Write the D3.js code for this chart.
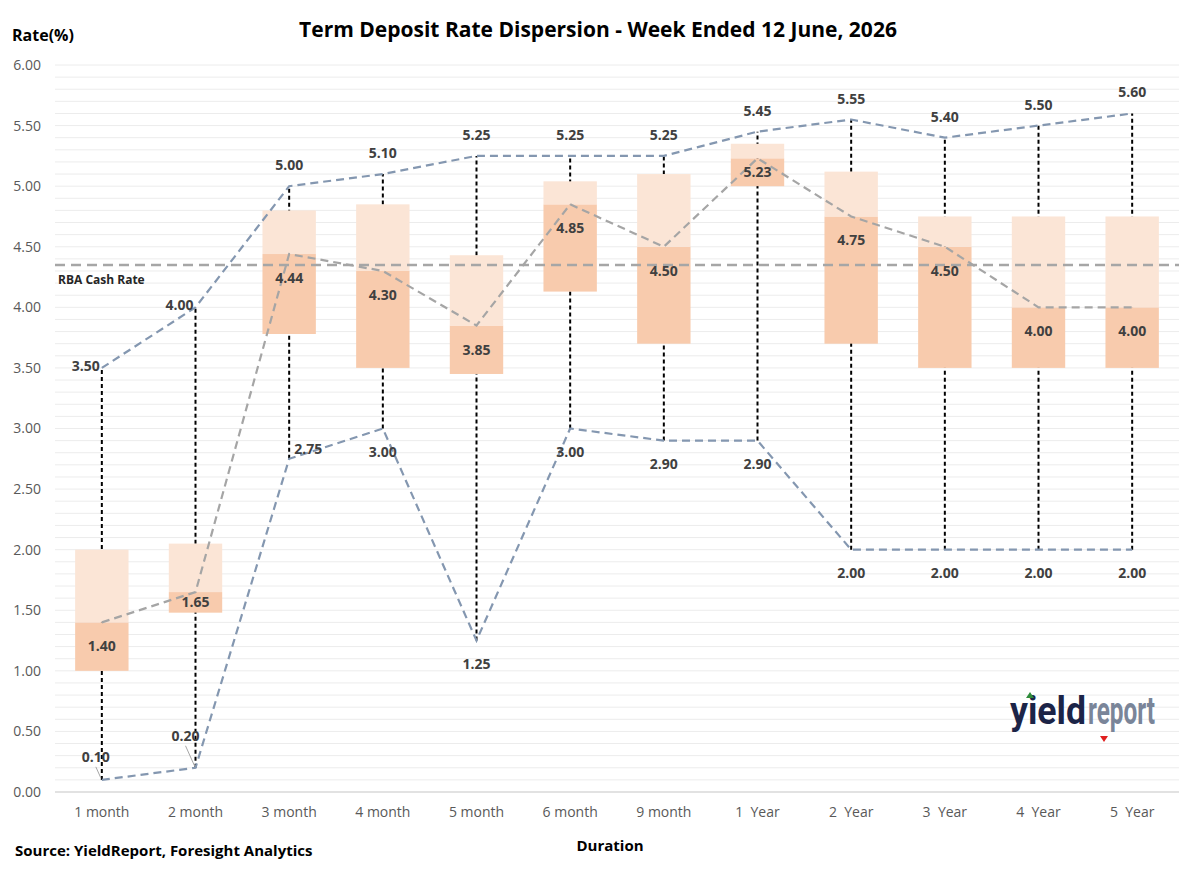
<!DOCTYPE html>
<html>
<head>
<meta charset="utf-8">
<script src="https://cdn.jsdelivr.net/npm/d3@7"></script>
<style>
  body { margin: 0; background: #fff; }
  text { font-family: "Open Sans", "Noto Sans", sans-serif; }
  .x-axis text { white-space: pre; }
</style>
</head>
<body>
<svg id="chart"></svg>
<script>
// data
var categories = ["1 month", "2 month", "3 month", "4 month", "5 month", "6 month",
                  "9 month", "1  Year", "2  Year", "3  Year", "4  Year", "5  Year"];
var minRate    = [0.10, 0.20, 2.75, 3.00, 1.25, 3.00, 2.90, 2.90, 2.00, 2.00, 2.00, 2.00];
var lowerQ     = [1.00, 1.48, 3.78, 3.50, 3.45, 4.13, 3.70, 5.00, 3.70, 3.50, 3.50, 3.50];
var medianRate = [1.40, 1.65, 4.44, 4.30, 3.85, 4.85, 4.50, 5.23, 4.75, 4.50, 4.00, 4.00];
var upperQ     = [2.00, 2.05, 4.80, 4.85, 4.43, 5.04, 5.10, 5.35, 5.12, 4.75, 4.75, 4.75];
var maxRate    = [3.50, 4.00, 5.00, 5.10, 5.25, 5.25, 5.25, 5.45, 5.55, 5.40, 5.50, 5.60];
var rbaCashRate = 4.35;
var yTicks = [0, 0.5, 1, 1.5, 2, 2.5, 3, 3.5, 4, 4.5, 5, 5.5, 6];

var svgWidth = 1199, svgHeight = 871;
var margin = { top: 65, right: 20, bottom: 79, left: 55 };
var width = svgWidth - margin.left - margin.right;
var height = svgHeight - margin.top - margin.bottom;

var svg = d3.select("#chart")
    .attr("width", svgWidth)
    .attr("height", svgHeight);

var x = d3.scaleBand()
    .domain(categories)
    .range([0, width])
    .paddingInner(0.43)
    .paddingOuter(0.215);

var y = d3.scaleLinear()
    .domain([0, 6])
    .range([height, 0]);

var g = svg.append("g")
    .attr("transform", "translate(" + margin.left + "," + margin.top + ")");

var cx = function(i) { return x(categories[i]) + x.bandwidth() / 2; };

// gridlines every 0.1
g.append("g")
    .selectAll("line")
    .data(d3.range(1, 61).map(function(d) { return d / 10; }))
    .enter().append("line")
    .attr("x1", 0).attr("x2", width)
    .attr("y1", function(d) { return y(d); })
    .attr("y2", function(d) { return y(d); })
    .attr("stroke", "#ececec")
    .attr("stroke-width", 1);

// bottom axis line
g.append("line")
    .attr("x1", 0).attr("x2", width)
    .attr("y1", y(0)).attr("y2", y(0))
    .attr("stroke", "#d9d9d9")
    .attr("stroke-width", 1.5);

// y axis
var yAxis = g.append("g")
    .call(d3.axisLeft(y).tickValues(yTicks).tickFormat(d3.format(".2f")).tickSize(0).tickPadding(14));
yAxis.select(".domain").remove();
yAxis.selectAll("text")
    .attr("fill", "#595959")
    .style("font-size", "14px")
    .style("font-family", "Open Sans");

// x axis
var xAxis = g.append("g")
    .attr("class", "x-axis")
    .attr("transform", "translate(0," + height + ")")
    .call(d3.axisBottom(x).tickSize(0).tickPadding(15));
xAxis.select(".domain").remove();
xAxis.selectAll("text")
    .attr("fill", "#595959")
    .style("font-size", "14px")
    .style("font-family", "Open Sans");

var idx = d3.range(categories.length);

// whiskers
g.append("g").selectAll("line")
    .data(idx)
    .enter().append("line")
    .attr("x1", cx).attr("x2", cx)
    .attr("y1", function(i) { return y(minRate[i]); })
    .attr("y2", function(i) { return y(maxRate[i]); })
    .attr("stroke", "#000")
    .attr("stroke-width", 2)
    .attr("stroke-dasharray", "4,3");

// lower box (Q1 -> median)
g.append("g").selectAll("rect")
    .data(idx)
    .enter().append("rect")
    .attr("x", function(i) { return x(categories[i]); })
    .attr("width", x.bandwidth())
    .attr("y", function(i) { return y(medianRate[i]); })
    .attr("height", function(i) { return y(lowerQ[i]) - y(medianRate[i]); })
    .attr("fill", "#f8cbad");

// upper box (median -> Q3)
g.append("g").selectAll("rect")
    .data(idx)
    .enter().append("rect")
    .attr("x", function(i) { return x(categories[i]); })
    .attr("width", x.bandwidth())
    .attr("y", function(i) { return y(upperQ[i]); })
    .attr("height", function(i) { return y(medianRate[i]) - y(upperQ[i]); })
    .attr("fill", "#fbe5d6");

// RBA cash rate
g.append("line")
    .attr("x1", 0).attr("x2", width)
    .attr("y1", y(rbaCashRate)).attr("y2", y(rbaCashRate))
    .attr("stroke", "#a6a6a6")
    .attr("stroke-width", 2.5)
    .attr("stroke-dasharray", "10,6");

g.append("text")
    .attr("x", 3)
    .attr("y", y(rbaCashRate) + 19)
    .style("font-size", "12px")
    .style("font-weight", "bold")
    .attr("fill", "#262626")
    .text("RBA Cash Rate");

function dashedLine(values, colour) {
    var line = d3.line()
        .x(function(d, i) { return cx(i); })
        .y(function(d) { return y(d); });
    g.append("path")
        .datum(values)
        .attr("d", line)
        .attr("fill", "none")
        .attr("stroke", colour)
        .attr("stroke-width", 2.2)
        .attr("stroke-dasharray", "8,5");
}

dashedLine(medianRate, "#a5a5a5");
dashedLine(maxRate, "#8497b0");
dashedLine(minRate, "#8497b0");

var fmt = d3.format(".2f");
var labelStyle = function(sel) {
    sel.style("font-size", "14px")
       .style("font-weight", "bold")
       .attr("fill", "#404040")
       .attr("text-anchor", "middle");
};

// max labels
g.append("g").selectAll("text")
    .data(idx)
    .enter().append("text")
    .attr("x", function(i) { return i < 2 ? cx(i) - 16 : cx(i); })
    .attr("y", function(i) { return i < 2 ? y(maxRate[i]) + 3 : y(maxRate[i]) - 16; })
    .call(labelStyle)
    .text(function(i) { return fmt(maxRate[i]); });

// min labels
var minLabelPos = function(i) {
    if (i === 0) return [cx(i) - 6, y(minRate[i]) - 18];
    if (i === 1) return [cx(i) - 10, y(minRate[i]) - 27];
    if (i === 2) return [cx(i) + 19, y(minRate[i]) - 5];
    return [cx(i), y(minRate[i]) + 28];
};
g.append("g").selectAll("text")
    .data(idx)
    .enter().append("text")
    .attr("x", function(i) { return minLabelPos(i)[0]; })
    .attr("y", function(i) { return minLabelPos(i)[1]; })
    .call(labelStyle)
    .text(function(i) { return fmt(minRate[i]); });

// leader lines for the two small labels
g.append("g").selectAll("line")
    .data([0, 1])
    .enter().append("line")
    .attr("x1", function(i) { return cx(i) - (i === 0 ? 6 : 10); })
    .attr("y1", function(i) { return minLabelPos(i)[1] + 5; })
    .attr("x2", function(i) { return cx(i) - 1; })
    .attr("y2", function(i) { return y(minRate[i]) - 2; })
    .attr("stroke", "#a6a6a6")
    .attr("stroke-width", 1);

// median labels
g.append("g").selectAll("text")
    .data(idx)
    .enter().append("text")
    .attr("x", cx)
    .attr("y", function(i) {
        var mid = (y(medianRate[i]) + y(lowerQ[i])) / 2;
        return Math.min(y(medianRate[i]) + 24, mid) + 5;
    })
    .call(labelStyle)
    .text(function(i) { return fmt(medianRate[i]); });

// titles
svg.append("text")
    .attr("x", 598).attr("y", 37)
    .attr("text-anchor", "middle")
    .style("font-size", "21px")
    .style("font-weight", "bold")
    .attr("fill", "#000")
    .text("Term Deposit Rate Dispersion - Week Ended 12 June, 2026");

svg.append("text")
    .attr("x", 12).attr("y", 41)
    .style("font-size", "16px")
    .style("font-weight", "bold")
    .attr("fill", "#000")
    .text("Rate(%)");

svg.append("text")
    .attr("x", 610).attr("y", 851)
    .attr("text-anchor", "middle")
    .style("font-size", "15px")
    .style("font-weight", "bold")
    .attr("fill", "#000")
    .text("Duration");

svg.append("text")
    .attr("x", 15).attr("y", 856)
    .style("font-size", "15px")
    .style("font-weight", "bold")
    .attr("fill", "#000")
    .text("Source: YieldReport, Foresight Analytics");

// yieldreport logo
var logo = svg.append("g").attr("transform", "translate(1010,724)");
logo.append("text")
    .attr("x", 0).attr("y", 0)
    .style("font-size", "38px")
    .style("font-weight", "bold")
    .style("font-family", "Liberation Sans Narrow, Roboto, sans-serif")
    .attr("textLength", 76)
    .attr("lengthAdjust", "spacingAndGlyphs")
    .attr("fill", "#1c2447")
    .text("yield");
logo.append("text")
    .attr("x", 78).attr("y", 0)
    .style("font-size", "38px")
    .style("font-weight", "bold")
    .style("font-family", "Liberation Sans Narrow, Roboto, sans-serif")
    .attr("textLength", 67)
    .attr("lengthAdjust", "spacingAndGlyphs")
    .attr("fill", "#7a8599")
    .text("report");
logo.append("path")
    .attr("d", "M16,-26 L20,-32 L24,-26 Z")
    .attr("fill", "#2e8b3a");
logo.append("path")
    .attr("d", "M90,12 L98,12 L94,18 Z")
    .attr("fill", "#e02020");
</script>
</body>
</html>
